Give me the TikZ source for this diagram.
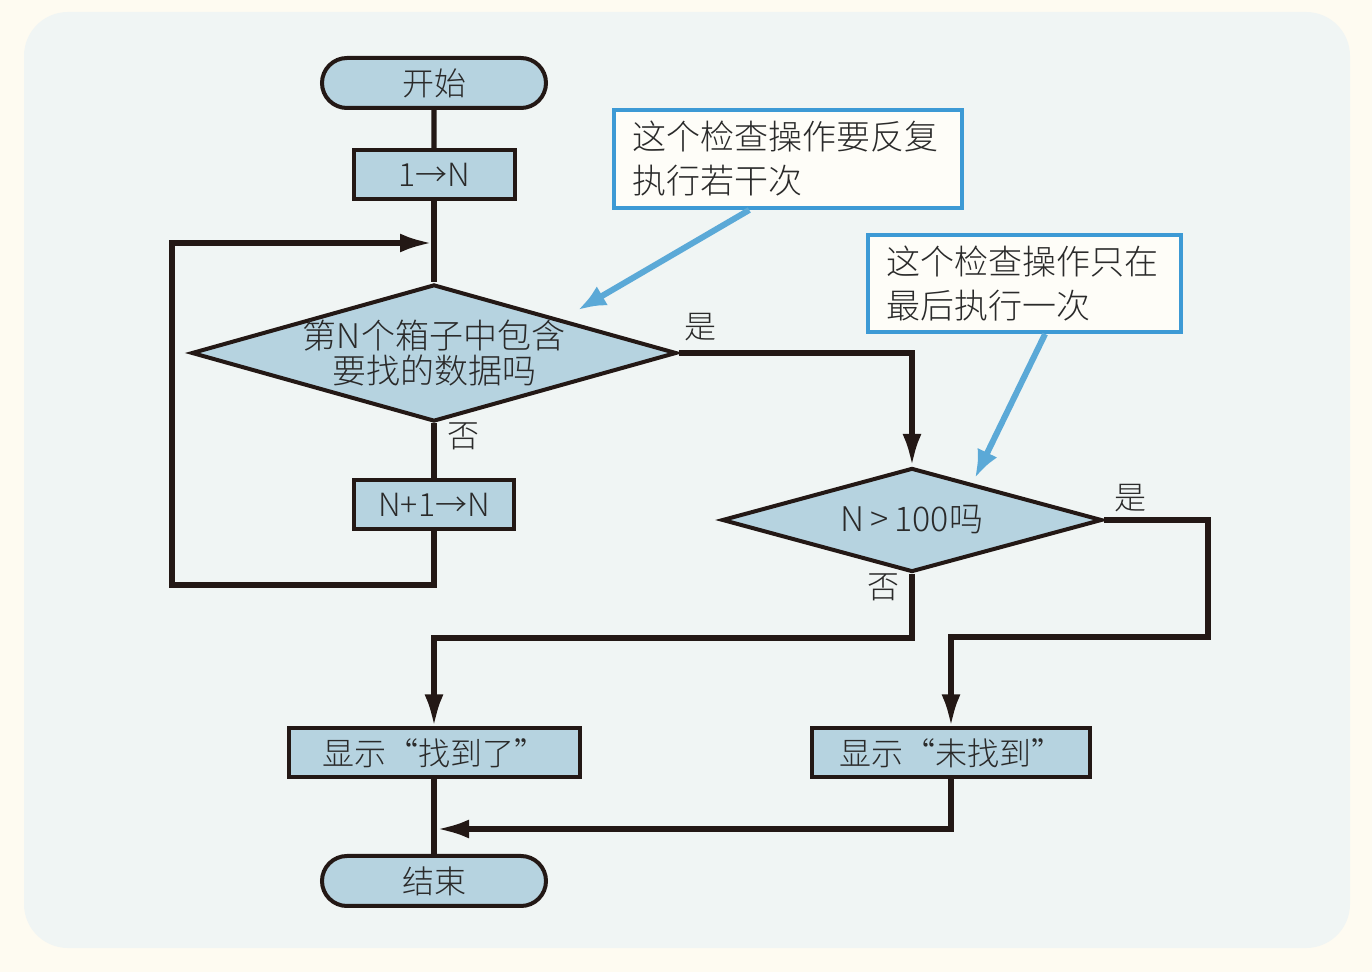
\documentclass[tikz,border=0pt]{standalone}
\usepackage{fontspec}
\setmainfont{Noto Sans CJK SC}[UprightFont={* Light}]
\usepackage{tikz}
\usetikzlibrary{shapes.geometric, shapes.misc, arrows.meta, calc}

\definecolor{paper}{HTML}{FEFBF1}
\definecolor{panel}{HTML}{F0F5F4}
\definecolor{boxfill}{HTML}{B6D3E0}
\definecolor{ink}{HTML}{231815}
\definecolor{txt}{HTML}{2A2A2A}
\definecolor{noteline}{HTML}{3D9AD5}
\definecolor{notefill}{HTML}{FEFDF8}
\definecolor{pointer}{HTML}{5BA9D7}

\begin{document}
\begin{tikzpicture}[x=0.5pt, y=-0.5pt,
  term/.style={rounded rectangle, draw=ink, line width=2pt, fill=boxfill,
    minimum width=112pt, minimum height=25pt, font=\fontsize{16}{18}\selectfont},
  proc/.style={rectangle, draw=ink, line width=2pt, fill=boxfill,
    minimum height=24.5pt, font=\fontsize{16}{18}\selectfont},
  test/.style={diamond, aspect=3.6, draw=ink, line width=2pt, fill=boxfill,
    font=\fontsize{17}{17.5}\selectfont, align=center},
  note/.style={rectangle, draw=noteline, line width=2pt, fill=notefill,
    inner xsep=9pt, align=left, font=\fontsize{17}{22}\selectfont},
  lbl/.style={font=\fontsize{16}{18}\selectfont},
  flow/.style={draw=ink, line width=2.6pt},
  tip/.style={-{Latex[length=16pt,width=9.5pt]}},
  hint/.style={draw=pointer, line width=3pt, -{Latex[length=14pt,width=11pt]}}]
\tikzstyle{every node}+=[inner sep=0pt, text=txt]
% background
\fill [paper] (0,0) rectangle (1372,972);
\fill [panel, rounded corners=22pt] (24,12) rectangle (1350,948);
\useasboundingbox (0,0) rectangle (1372,972);
% left column
\node [term] (start) at (434,83) {开始};
\node [proc, minimum width=80.5pt] (init) at (434,175) {1→N};
\node [test, minimum width=242.5pt, minimum height=68.5pt,
  label={[align=center, font=\fontsize{17}{17.5}\selectfont, text=txt]center:第N个箱子中包含\\要找的数据吗}] (check) at (434,353) {};
\node [proc, minimum width=80pt] (inc) at (434,505) {N+1→N};
\node [proc, minimum width=145.5pt] (found) at (434,753) {显示“找到了”};
\node [term] (finish) at (434,881) {结束};
% right column
\node [test, minimum width=190pt, minimum height=52pt] (last) at (912,520) {N\,>\,100吗};
\node [proc, minimum width=139pt] (notfound) at (951,753) {显示“未找到”};
% notes
\node [note, text width=156pt, minimum height=49pt] (note1) at (788,159) {这个检查操作要反复\\执行若干次};
\node [note, text width=138.5pt, minimum height=48.5pt] (note2) at (1024.5,283.5) {这个检查操作只在\\最后执行一次};
% branch labels
\node [lbl] (yes1) at (700,327) {是};
\node [lbl] (no1) at (463,436) {否};
\node [lbl] (yes2) at (1130,498) {是};
\node [lbl] (no2) at (883,587) {否};
% bend points
\coordinate (loopL) at (172,585);
\coordinate (loopT) at (432,243);
\coordinate (yesR) at (1208,637);
\coordinate (noY) at (0,638);
\coordinate (mrg) at (437,829);
\coordinate (tip1) at (578,310);
\coordinate (tip2) at (975,478);
% connectors
\draw [flow] (start) -- (init);
\draw [flow] (init) -- (check.north);
\draw [flow] (check.south) -- (inc.north);
\draw [flow, tip] (inc.south) |- (loopL) |- (loopT);
\draw [flow, tip] (check.east) -| (last.north);
\draw [flow, tip] (last.south) -- (last.south |- noY) -| (found.north);
\draw [flow, tip] (last.east) -| (yesR) -| (notfound.north);
\draw [flow] (found.south) -- (finish.north);
\draw [flow, tip] (notfound.south) |- (mrg);
\draw [hint] ($(note1.south west)!0.39!(note1.south east)$) -- (tip1);
\draw [hint] ($(note2.south west)!0.565!(note2.south east)$) -- (tip2);
\end{tikzpicture}
\end{document}
